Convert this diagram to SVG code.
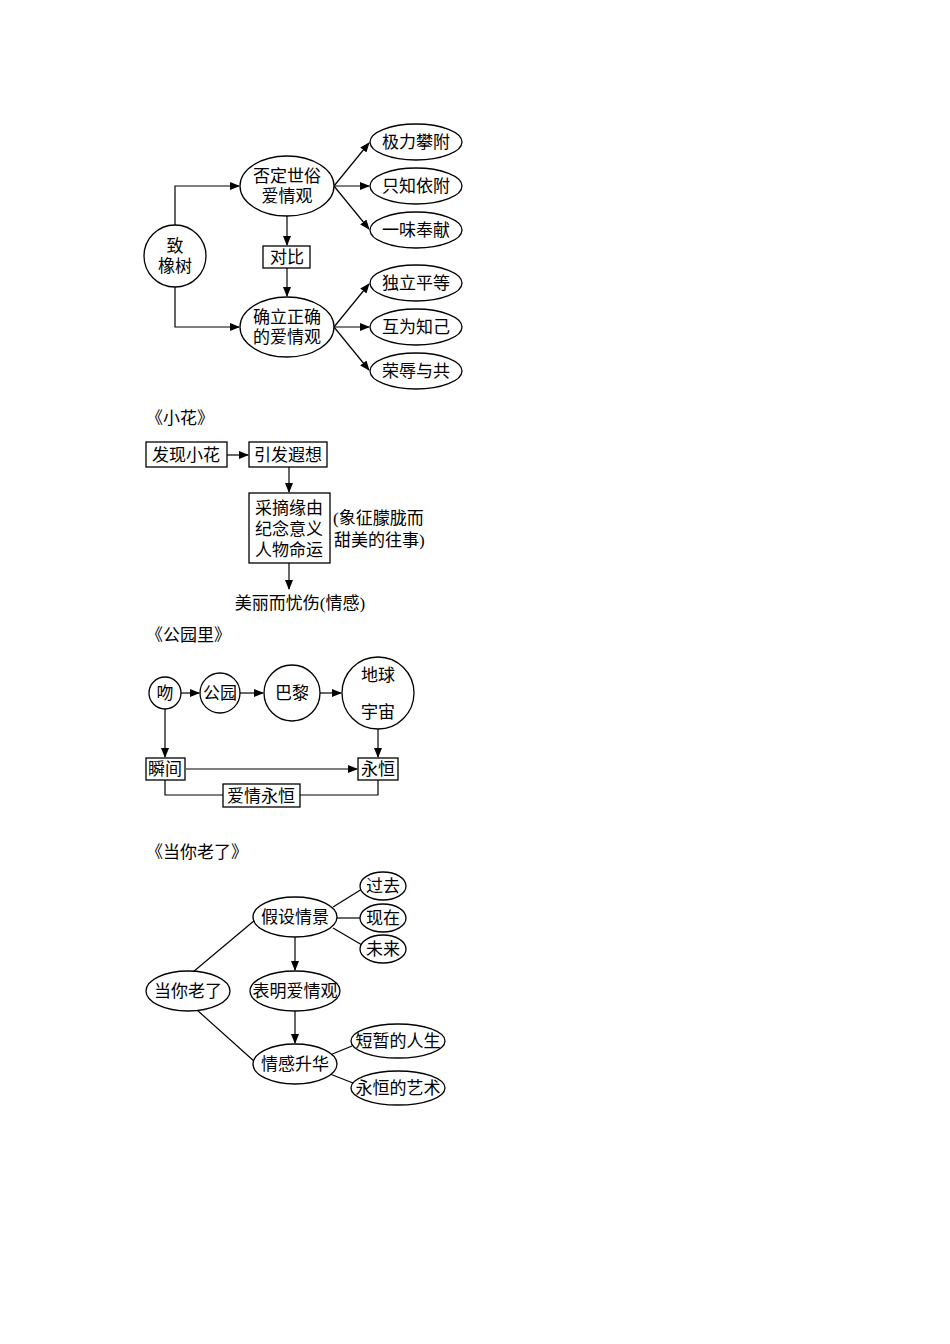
<svg xmlns="http://www.w3.org/2000/svg" width="950" height="1344" viewBox="0 0 950 1344">
<style>
text{font-family:"Liberation Serif","Noto Sans CJK SC",serif;font-size:17px;fill:#000;text-anchor:middle;dominant-baseline:central}
.t{text-anchor:start}
.s{fill:#fff;stroke:#000;stroke-width:1.3}
.c line,.c path{stroke:#000;stroke-width:1.2;fill:none}
</style>
<defs><marker id="a" markerWidth="10" markerHeight="8" refX="9" refY="4" orient="auto" markerUnits="userSpaceOnUse"><path d="M0,0 L10,4 L0,8 z" fill="#000"/></marker></defs>
<rect width="950" height="1344" fill="#fff"/>
<g class="c">
<path d="M175,225 V186 H239" marker-end="url(#a)"/>
<path d="M175,287 V327 H239" marker-end="url(#a)"/>
<line x1="287" y1="216" x2="287" y2="245" marker-end="url(#a)"/>
<line x1="287" y1="268" x2="287" y2="296" marker-end="url(#a)"/>
<line x1="334" y1="186" x2="369" y2="143" marker-end="url(#a)"/>
<line x1="334" y1="186" x2="369" y2="186" marker-end="url(#a)"/>
<line x1="334" y1="186" x2="369" y2="229" marker-end="url(#a)"/>
<line x1="334" y1="327" x2="369" y2="284" marker-end="url(#a)"/>
<line x1="334" y1="327" x2="369" y2="327" marker-end="url(#a)"/>
<line x1="334" y1="327" x2="369" y2="370" marker-end="url(#a)"/>
<line x1="227" y1="455" x2="248" y2="455" marker-end="url(#a)"/>
<line x1="289" y1="467" x2="289" y2="492" marker-end="url(#a)"/>
<line x1="289" y1="563" x2="289" y2="589" marker-end="url(#a)"/>
<line x1="181" y1="693" x2="199" y2="693" marker-end="url(#a)"/>
<line x1="240" y1="693" x2="263" y2="693" marker-end="url(#a)"/>
<line x1="320" y1="693" x2="341" y2="693" marker-end="url(#a)"/>
<line x1="378" y1="686" x2="378" y2="702" marker-end="url(#a)"/>
<line x1="165" y1="709" x2="165" y2="757" marker-end="url(#a)"/>
<line x1="378" y1="729" x2="378" y2="757" marker-end="url(#a)"/>
<line x1="186" y1="769" x2="357" y2="769" marker-end="url(#a)"/>
<path d="M165,780 V795 H223 M300,795 H378 V780"/>
<line x1="193" y1="972" x2="255" y2="920"/>
<line x1="197" y1="1010" x2="255" y2="1062"/>
<line x1="295" y1="937" x2="295" y2="970" marker-end="url(#a)"/>
<line x1="295" y1="1011" x2="295" y2="1043" marker-end="url(#a)"/>
<line x1="333" y1="907" x2="362" y2="889"/>
<line x1="337" y1="918" x2="360" y2="918"/>
<line x1="333" y1="928" x2="362" y2="945"/>
<line x1="330" y1="1055" x2="352" y2="1046"/>
<line x1="330" y1="1074" x2="353" y2="1083"/>
</g>
<g id="zhixiangshu"><circle class="s" cx="175" cy="256" r="31"/><text x="175" y="246">致</text><text x="175" y="266">橡树</text></g>
<g id="fouding"><ellipse class="s" cx="287" cy="186" rx="47" ry="30"/><text x="287" y="176">否定世俗</text><text x="287" y="196">爱情观</text></g>
<g id="duibi"><rect class="s" x="263" y="246" width="47" height="22"/><text x="287" y="257">对比</text></g>
<g id="queli"><ellipse class="s" cx="287" cy="327" rx="47" ry="30"/><text x="287" y="317">确立正确</text><text x="287" y="337">的爱情观</text></g>
<g id="e1"><ellipse class="s" cx="416" cy="142" rx="46" ry="18"/><text x="416" y="142">极力攀附</text></g>
<g id="e2"><ellipse class="s" cx="416" cy="186" rx="46" ry="18"/><text x="416" y="186">只知依附</text></g>
<g id="e3"><ellipse class="s" cx="416" cy="230" rx="46" ry="18"/><text x="416" y="230">一味奉献</text></g>
<g id="e4"><ellipse class="s" cx="416" cy="283" rx="46" ry="18"/><text x="416" y="283">独立平等</text></g>
<g id="e5"><ellipse class="s" cx="416" cy="327" rx="46" ry="18"/><text x="416" y="327">互为知己</text></g>
<g id="e6"><ellipse class="s" cx="416" cy="371" rx="46" ry="18"/><text x="416" y="371">荣辱与共</text></g>
<text class="t" x="146" y="418">《小花》</text>
<g id="faxian"><rect class="s" x="146" y="442" width="81" height="25"/><text x="186" y="455">发现小花</text></g>
<g id="yinfa"><rect class="s" x="249" y="442" width="78" height="25"/><text x="288" y="455">引发遐想</text></g>
<g id="caizhai"><rect class="s" x="249" y="493" width="81" height="70"/><text x="289" y="508">采摘缘由</text><text x="289" y="529">纪念意义</text><text x="289" y="550">人物命运</text></g>
<text class="t" x="333" y="518">(象征朦胧而</text>
<text class="t" x="334" y="540">甜美的往事)</text>
<text x="300" y="603">美丽而忧伤(情感)</text>
<text class="t" x="146" y="635">《公园里》</text>
<g id="wen"><circle class="s" cx="165" cy="693" r="16"/><text x="165" y="693">吻</text></g>
<g id="gongyuan"><circle class="s" cx="220" cy="693" r="20"/><text x="220" y="693">公园</text></g>
<g id="bali"><circle class="s" cx="292" cy="693" r="28"/><text x="292" y="693">巴黎</text></g>
<g id="diqiu"><circle class="s" cx="378" cy="693" r="36"/><text x="378" y="675">地球</text><text x="378" y="712">宇宙</text></g>
<g id="shunjian"><rect class="s" x="146" y="758" width="39" height="22"/><text x="165" y="769">瞬间</text></g>
<g id="yongheng"><rect class="s" x="358" y="758" width="40" height="22"/><text x="378" y="769">永恒</text></g>
<g id="aiqing"><rect class="s" x="223" y="784" width="77" height="23"/><text x="261" y="796">爱情永恒</text></g>
<text class="t" x="146" y="852">《当你老了》</text>
<g id="dangni"><ellipse class="s" cx="188" cy="991" rx="42" ry="20"/><text x="188" y="991">当你老了</text></g>
<g id="jiashe"><ellipse class="s" cx="295" cy="917" rx="42" ry="20"/><text x="295" y="917">假设情景</text></g>
<g id="biaoming"><ellipse class="s" cx="295" cy="991" rx="45" ry="20"/><text x="295" y="991">表明爱情观</text></g>
<g id="qinggan"><ellipse class="s" cx="295" cy="1064" rx="42" ry="20"/><text x="295" y="1064">情感升华</text></g>
<g id="guoqu"><ellipse class="s" cx="383" cy="886" rx="23" ry="14"/><text x="383" y="886">过去</text></g>
<g id="xianzai"><ellipse class="s" cx="383" cy="918" rx="23" ry="14"/><text x="383" y="918">现在</text></g>
<g id="weilai"><ellipse class="s" cx="383" cy="949" rx="23" ry="14"/><text x="383" y="949">未来</text></g>
<g id="duanzan"><ellipse class="s" cx="398" cy="1041" rx="47" ry="17"/><text x="398" y="1041">短暂的人生</text></g>
<g id="yongheng2"><ellipse class="s" cx="398" cy="1088" rx="47" ry="17"/><text x="398" y="1088">永恒的艺术</text></g>
</svg>
